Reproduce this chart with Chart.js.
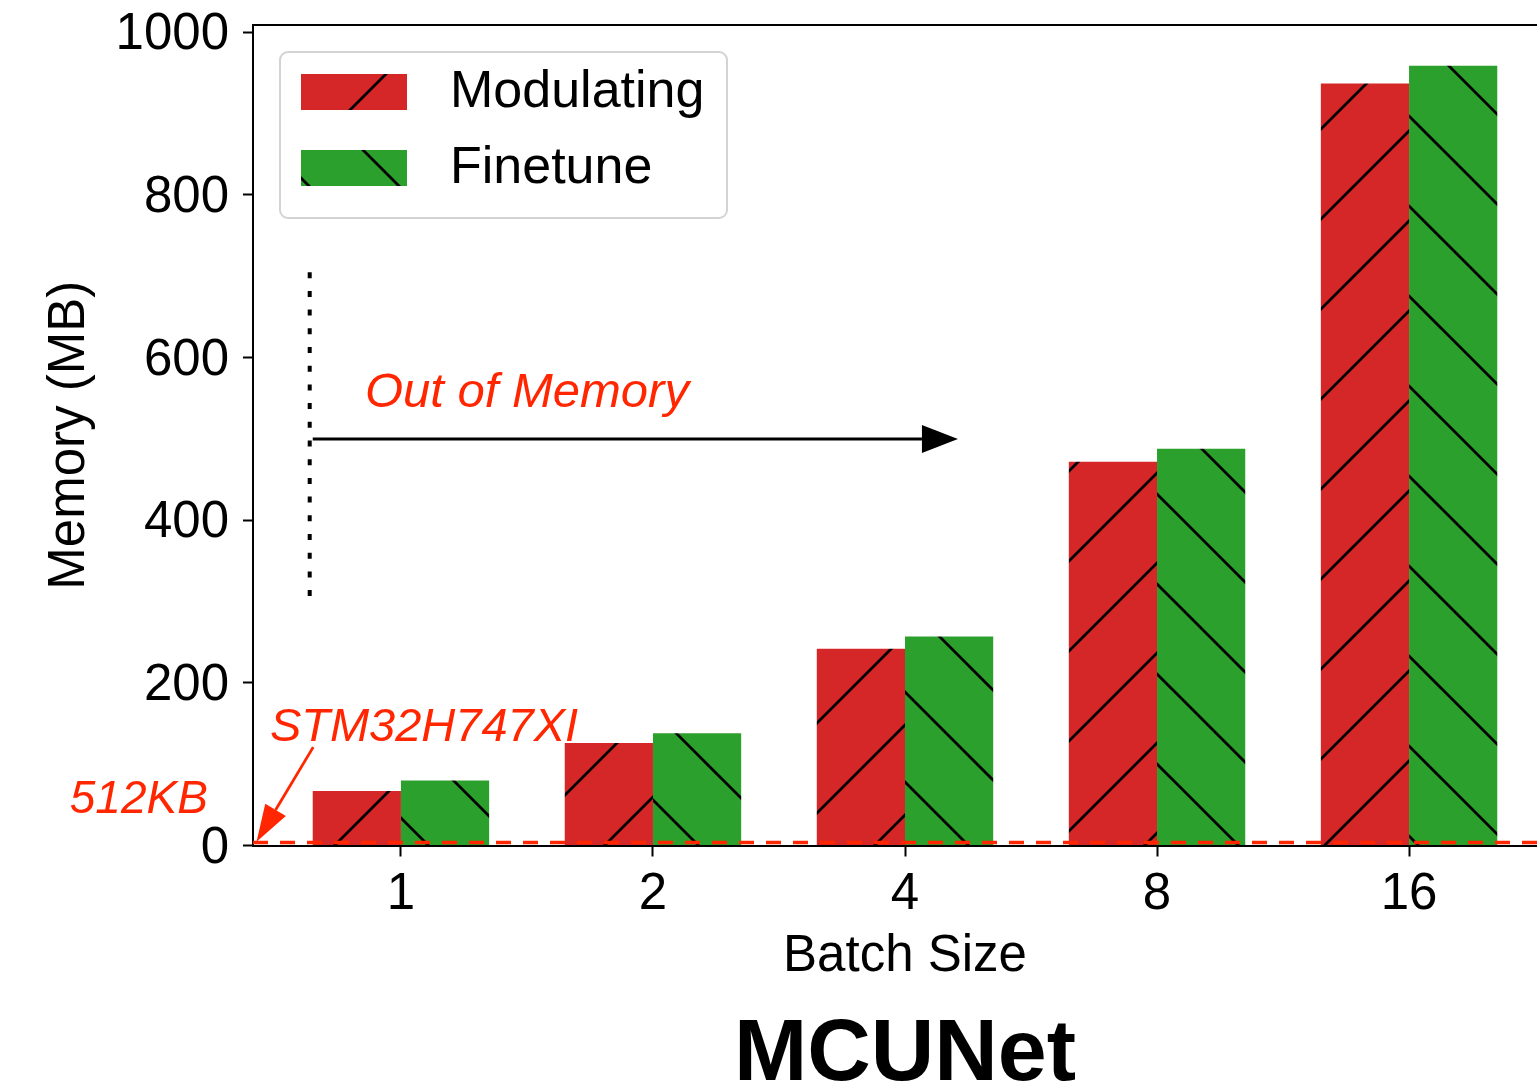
<!DOCTYPE html>
<html>
<head>
<meta charset="utf-8">
<script src="https://cdn.jsdelivr.net/npm/chart.js@4.4.1/dist/chart.umd.min.js"></script>
<style>
    html, body { margin: 0; padding: 0; overflow: hidden; background: #fff; }
    canvas { display: block; }
</style>
</head>
<body>
<canvas id="memory-chart" width="1557" height="1083"></canvas>
<script>

const batchSizes = ['1', '2', '4', '8', '16'];
const modulating = [67, 126, 242, 472, 937];
const finetune   = [80, 138, 257, 488, 959];
const yTicks     = [0, 200, 400, 600, 800, 1000];
const mcuLimit   = 0.5;   // STM32H747XI, 512KB in MB

const RED   = '#d62728';
const GREEN = '#2ca02c';
const NOTE  = 'rgb(255, 38, 0)';
const FONT  = '"Liberation Sans", Arial, Helvetica, sans-serif';


// matplotlib-like hatch, tiled from the canvas origin
function hatch( ctx, color, dir ) {
    const size = 90;
    const tile = document.createElement('canvas');
    tile.width = size;
    tile.height = size;
    const t = tile.getContext('2d');
    t.fillStyle = color;
    t.fillRect(0, 0, size, size);
    t.strokeStyle = '#000';
    t.lineWidth = 2.8;
    t.beginPath();
    if ( dir === '/' ) {
        [-80, 10, 100, 190].forEach( c => { t.moveTo(c + 10, -10); t.lineTo(-10, c + 10); } );
    } else {
        [-123, -33, 57, 147].forEach( c => { t.moveTo(-10, c - 10); t.lineTo(size + 10, c + size + 10); } );
    }
    t.stroke();
    return ctx.createPattern(tile, 'repeat');
}


function arrow( ctx, x1, y1, x2, y2, color, width, headLen, headHalf ) {
    const a = Math.atan2(y2 - y1, x2 - x1);
    const bx = x2 - headLen * Math.cos(a);
    const by = y2 - headLen * Math.sin(a);
    ctx.setLineDash([]);
    ctx.strokeStyle = color;
    ctx.fillStyle = color;
    ctx.lineWidth = width;
    ctx.beginPath();
    ctx.moveTo(x1, y1);
    ctx.lineTo(bx, by);
    ctx.stroke();
    ctx.beginPath();
    ctx.moveTo(x2, y2);
    ctx.lineTo(bx + headHalf * Math.sin(a), by - headHalf * Math.cos(a));
    ctx.lineTo(bx - headHalf * Math.sin(a), by + headHalf * Math.cos(a));
    ctx.closePath();
    ctx.fill();
}


const annotations = {
    id: 'annotations',
    afterDatasetsDraw( chart ) {
        const { ctx, chartArea, scales: { x, y } } = chart;
        const px = v => x.getPixelForValue(v);
        const py = v => y.getPixelForValue(v);
        ctx.save();

        // 512KB line
        ctx.strokeStyle = NOTE;
        ctx.lineWidth = 3.5;
        ctx.setLineDash([15, 12]);
        ctx.beginPath();
        ctx.moveTo(chartArea.left, py(mcuLimit) - 2.5);
        ctx.lineTo(chartArea.right, py(mcuLimit) - 2.5);
        ctx.stroke();

        // dotted marker
        ctx.strokeStyle = '#000';
        ctx.lineWidth = 4;
        ctx.setLineDash([6, 12.7]);
        ctx.beginPath();
        ctx.moveTo(px(-0.362), py(705));
        ctx.lineTo(px(-0.362), py(305));
        ctx.stroke();

        arrow(ctx, px(-0.35), py(500), px(2.21), py(500), '#000', 3, 36, 14);
        arrow(ctx, px(-0.348), py(121), px(-0.573), py(4.7), NOTE, 2.8, 37, 12);

        ctx.fillStyle = NOTE;
        ctx.textBaseline = 'alphabetic';
        ctx.textAlign = 'left';
        ctx.font = `italic 49px ${FONT}`;
        ctx.fillText('Out of Memory', px(-0.143), py(539));
        ctx.font = `italic 47px ${FONT}`;
        ctx.fillText('STM32H747XI', px(-0.52), py(128.5));
        ctx.textAlign = 'right';
        ctx.font = `italic 46px ${FONT}`;
        ctx.fillText('512KB', px(-0.766), py(40));
        ctx.restore();
    },
    afterDraw( chart ) {
        const { ctx, chartArea, scales: { x } } = chart;
        ctx.save();

        // top spine
        ctx.strokeStyle = '#000';
        ctx.lineWidth = 2;
        ctx.beginPath();
        ctx.moveTo(chartArea.left - 1, chartArea.top);
        ctx.lineTo(chartArea.right, chartArea.top);
        ctx.stroke();

        // legend
        const lx = chartArea.left + 27, ly = chartArea.top + 27;
        ctx.fillStyle = 'rgba(255,255,255,0.8)';
        ctx.strokeStyle = '#d3d3d3';
        ctx.lineWidth = 2;
        ctx.beginPath();
        ctx.roundRect(lx, ly, 447, 166, 8);
        ctx.fill();
        ctx.stroke();
        ctx.font = `52px ${FONT}`;
        ctx.textBaseline = 'middle';
        ctx.textAlign = 'left';
        chart.data.datasets.forEach( ( ds, i ) => {
            const ry = ly + 22 + i * 76;
            ctx.fillStyle = ds.backgroundColor;
            ctx.fillRect(lx + 21, ry, 106, 36);
            ctx.fillStyle = '#000';
            ctx.fillText(ds.label, lx + 170, ry + 19);
        } );

        ctx.font = `bold 88px ${FONT}`;
        ctx.textAlign = 'center';
        ctx.textBaseline = 'alphabetic';
        ctx.fillText('MCUNet', x.getPixelForValue(2), 1080);
        ctx.restore();
    }
};


function buildChart() {
    const canvas = document.getElementById('memory-chart');
    const ctx = canvas.getContext('2d');

    const datasets = [
        { label: 'Modulating', data: modulating.map( ( v, i ) => ( { x: i, y: v } ) ), backgroundColor: hatch(ctx, RED, '/') },
        { label: 'Finetune',   data: finetune.map( ( v, i ) => ( { x: i, y: v } ) ),   backgroundColor: hatch(ctx, GREEN, '\\') },
    ];

    new Chart(ctx, {
        type: 'bar',
        data: { datasets },
        options: {
            responsive: false,
            animation: false,
            events: [],
            layout: { padding: { top: 25, left: 0, right: 0, bottom: 0 } },
            datasets: { bar: { categoryPercentage: 0.7, barPercentage: 1.0, borderWidth: 0 } },
            plugins: { legend: { display: false }, tooltip: { enabled: false } },
            scales: {
                x: {
                    type: 'linear',
                    min: -0.587,
                    max: 4.587,
                    offset: false,
                    afterBuildTicks: s => { s.ticks = batchSizes.map( ( b, i ) => ( { value: i } ) ); },
                    afterFit: s => { s.height = 1083 - 25 - 820.5; s.paddingLeft = 0; s.paddingRight = 0; },
                    grid: { offset: false, drawOnChartArea: false, tickLength: 11, tickWidth: 2, tickColor: '#000' },
                    border: { color: '#000', width: 2 },
                    ticks: {
                        color: '#000',
                        padding: 8,
                        maxRotation: 0,
                        font: { family: FONT, size: 51 },
                        callback: v => batchSizes[v]
                    },
                    title: {
                        display: true,
                        text: 'Batch Size',
                        color: '#000',
                        font: { family: FONT, size: 51, lineHeight: 1.2 },
                        padding: { top: 0, bottom: 95 }
                    }
                },
                y: {
                    min: 0,
                    max: 1009,
                    afterBuildTicks: s => { s.ticks = yTicks.map( v => ( { value: v } ) ); },
                    afterFit: s => { s.width = 253; s.paddingTop = 0; s.paddingBottom = 0; },
                    grid: { drawOnChartArea: false, tickLength: 10, tickWidth: 2, tickColor: '#000' },
                    border: { color: '#000', width: 2 },
                    ticks: {
                        color: '#000',
                        padding: 14,
                        labelOffset: 3,
                        font: { family: FONT, size: 51 },
                        callback: v => String(v)
                    },
                    title: {
                        display: true,
                        text: 'Memory (MB)',
                        color: '#000',
                        font: { family: FONT, size: 51, lineHeight: 1.2 },
                        padding: { top: 39, bottom: 0 }
                    }
                }
            }
        },
        plugins: [annotations]
    });
}

buildChart();

</script>
</body>
</html>
